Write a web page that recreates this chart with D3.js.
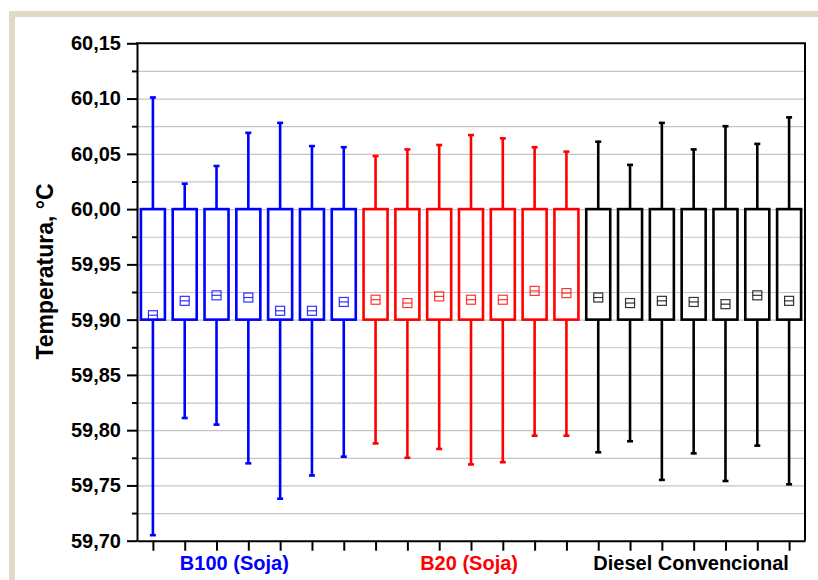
<!DOCTYPE html>
<html>
<head>
<meta charset="utf-8">
<script src="https://cdn.jsdelivr.net/npm/d3@7"></script>
<style>
  body { margin: 0; background: #fff; }
  svg { display: block; font-family: "Liberation Sans", Arial, sans-serif; }
  .axis text { font-size: 20px; font-weight: bold; fill: #000; }
</style>
</head>
<body>
<div id="chart"></div>
<script>
// data
var samples = d3.range(1, 22);
var groupNames = ["B100 (Soja)", "B20 (Soja)", "Diesel Convencional"];
var groupOf = [0,0,0,0,0,0,0, 1,1,1,1,1,1,1, 2,2,2,2,2,2,2];
var groupLabelAt = [3.56, 10.94, 17.92];

var boxLow  = [59.90,59.90,59.90,59.90,59.90,59.90,59.90, 59.90,59.90,59.90,59.90,59.90,59.90,59.90, 59.90,59.90,59.90,59.90,59.90,59.90,59.90];
var boxHigh = [60.00,60.00,60.00,60.00,60.00,60.00,60.00, 60.00,60.00,60.00,60.00,60.00,60.00,60.00, 60.00,60.00,60.00,60.00,60.00,60.00,60.00];
var whiskerMax = [60.101,60.023,60.039,60.069,60.078,60.057,60.056, 60.048,60.054,60.058,60.067,60.064,60.056,60.052, 60.061,60.040,60.078,60.054,60.075,60.059,60.083];
var whiskerMin = [59.705,59.811,59.805,59.770,59.738,59.759,59.776, 59.788,59.775,59.783,59.769,59.771,59.795,59.795, 59.780,59.790,59.755,59.779,59.754,59.786,59.751];
var means = [59.904,59.917,59.922,59.920,59.908,59.908,59.916, 59.918,59.915,59.921,59.918,59.918,59.926,59.924, 59.920,59.915,59.917,59.916,59.914,59.922,59.917];

var yMajor = [59.70,59.75,59.80,59.85,59.90,59.95,60.00,60.05,60.10,60.15];
var yMinor = [59.725,59.775,59.825,59.875,59.925,59.975,60.025,60.075,60.125];

// styles
var groupColors = ["#0000ff", "#ff0000", "#000000"];

var W = 818, H = 580;
var svg = d3.select("#chart").append("svg")
    .attr("width", W)
    .attr("height", H);

// beige frame strips
svg.append("rect").attr("x", 9).attr("y", 11).attr("width", W - 9).attr("height", 6).attr("fill", "#dfdac7");
svg.append("rect").attr("x", 9).attr("y", 11).attr("width", 6).attr("height", H - 11).attr("fill", "#dfdac7");

var xScale = d3.scaleLinear().domain([0.5, 21.5]).range([137, 805]);
var yScale = d3.scaleLinear().domain([59.70, 60.15]).range([540.7, 43.3]);

var comma = function(d) { return d3.format(".2f")(d).replace(".", ","); };

// gridlines
var grid = svg.append("g")
    .attr("transform", "translate(" + xScale(0.5) + ",0)")
    .call(d3.axisLeft(yScale)
        .tickValues(yMajor.concat(yMinor).filter(function(d) { return d > 59.71 && d < 60.14; }))
        .tickSize(-(xScale(21.5) - xScale(0.5)))
        .tickFormat(""));
grid.select(".domain").remove();
grid.selectAll("line").attr("stroke", "#c4c4c4").attr("stroke-width", 1.2);

// boxes
var boxW = 24;
var boxes = svg.append("g").selectAll(".box")
    .data(samples)
  .enter().append("g")
    .attr("class", "box");

boxes.each(function(s, i) {
  var g = d3.select(this);
  var cx = xScale(s);
  var c = groupColors[groupOf[i]];

  // upper whisker
  g.append("line")
      .attr("x1", cx).attr("x2", cx)
      .attr("y1", yScale(boxHigh[i])).attr("y2", yScale(whiskerMax[i]))
      .attr("stroke", c).attr("stroke-width", 2.6);
  g.append("line")
      .attr("x1", cx - 3).attr("x2", cx + 3)
      .attr("y1", yScale(whiskerMax[i])).attr("y2", yScale(whiskerMax[i]))
      .attr("stroke", c).attr("stroke-width", 2.6);

  // lower whisker
  g.append("line")
      .attr("x1", cx).attr("x2", cx)
      .attr("y1", yScale(boxLow[i])).attr("y2", yScale(whiskerMin[i]))
      .attr("stroke", c).attr("stroke-width", 2.6);
  g.append("line")
      .attr("x1", cx - 3).attr("x2", cx + 3)
      .attr("y1", yScale(whiskerMin[i])).attr("y2", yScale(whiskerMin[i]))
      .attr("stroke", c).attr("stroke-width", 2.6);

  // box
  g.append("rect")
      .attr("x", cx - boxW / 2)
      .attr("y", yScale(boxHigh[i]))
      .attr("width", boxW)
      .attr("height", yScale(boxLow[i]) - yScale(boxHigh[i]))
      .attr("fill", "none")
      .attr("stroke", c)
      .attr("stroke-width", 2.6);

  // mean marker
  var my = yScale(means[i]);
  g.append("rect")
      .attr("x", cx - 4.5).attr("y", my - 4.5)
      .attr("width", 9).attr("height", 9)
      .attr("fill", "none")
      .attr("stroke", c).attr("stroke-width", 1.2)
      .attr("stroke-opacity", 0.8);
  g.append("line")
      .attr("x1", cx - 4.5).attr("x2", cx + 4.5)
      .attr("y1", my).attr("y2", my)
      .attr("stroke", c).attr("stroke-width", 1.2)
      .attr("stroke-opacity", 0.8);
});

// y axis minor ticks
var yMinorAxis = svg.append("g")
    .attr("transform", "translate(" + xScale(0.5) + ",0)")
    .call(d3.axisLeft(yScale).tickValues(yMinor).tickSize(5).tickFormat(""));
yMinorAxis.select(".domain").remove();
yMinorAxis.selectAll("line").attr("stroke", "#000").attr("stroke-width", 2);

// y axis major
var yAxis = svg.append("g")
    .attr("class", "axis")
    .attr("transform", "translate(" + xScale(0.5) + ",0)")
    .call(d3.axisLeft(yScale).tickValues(yMajor).tickSize(10).tickSizeOuter(0).tickPadding(6).tickFormat(comma));
yAxis.selectAll("line").attr("stroke", "#000").attr("stroke-width", 2);
yAxis.select(".domain").attr("stroke", "#000").attr("stroke-width", 2);

// x axis
var xAxis = svg.append("g")
    .attr("class", "axis")
    .attr("transform", "translate(0," + yScale(59.70) + ")")
    .call(d3.axisBottom(xScale).tickValues(samples).tickSize(10).tickSizeOuter(0).tickFormat(""));
xAxis.selectAll("line").attr("stroke", "#000").attr("stroke-width", 2);
xAxis.select(".domain").attr("stroke", "#000").attr("stroke-width", 2);

// top and right frame
svg.append("line")
    .attr("x1", xScale(0.5) - 1).attr("x2", xScale(21.5) + 1)
    .attr("y1", yScale(60.15)).attr("y2", yScale(60.15))
    .attr("stroke", "#000").attr("stroke-width", 2);
svg.append("line")
    .attr("x1", xScale(21.5)).attr("x2", xScale(21.5))
    .attr("y1", yScale(60.15)).attr("y2", yScale(59.70))
    .attr("stroke", "#000").attr("stroke-width", 2);

// group labels
svg.selectAll(".group-label")
    .data(groupNames)
  .enter().append("text")
    .attr("class", "group-label")
    .attr("x", function(d, i) { return xScale(groupLabelAt[i]); })
    .attr("y", 570)
    .attr("text-anchor", "middle")
    .style("font-size", "20px")
    .style("font-weight", "bold")
    .style("fill", function(d, i) { return groupColors[i]; })
    .text(function(d) { return d; });

// y label
svg.append("text")
    .attr("transform", "translate(53," + 271.5 + ") rotate(-90)")
    .attr("text-anchor", "middle")
    .style("font-size", "23px")
    .style("font-weight", "bold")
    .text("Temperatura, °C");
</script>
</body>
</html>
